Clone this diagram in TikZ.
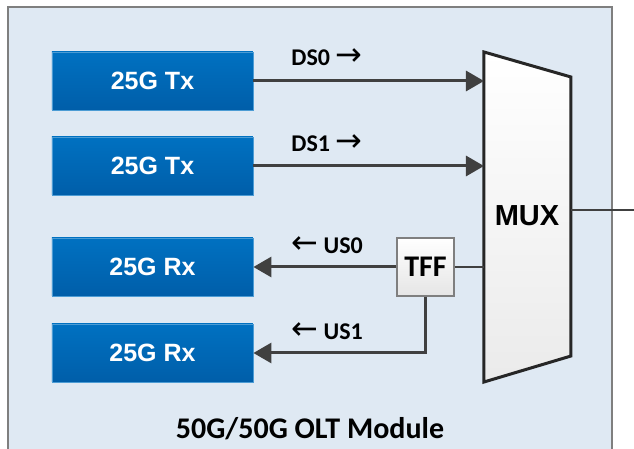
\documentclass[tikz,border=0pt]{standalone}
\usepackage{fontspec}
\setmainfont{Carlito}
\newfontfamily\arialfont{Liberation Sans}
\newfontfamily\symfont{DejaVu Sans}
\usetikzlibrary{arrows.meta,positioning,calc}

\definecolor{moduleFill}{HTML}{DFE9F3}
\definecolor{moduleLine}{HTML}{7F7F7F}
\definecolor{blockTop}{HTML}{0071C1}
\definecolor{blockBot}{HTML}{005EA9}
\definecolor{wireGray}{HTML}{404040}

\newcommand{\dirR}{{\symfont\mdseries\fontsize{16}{16}\selectfont →}}
\newcommand{\dirL}{{\symfont\mdseries\fontsize{16}{16}\selectfont ←}}

\begin{document}
\begin{tikzpicture}[
    x=0.5pt, y=-0.5pt,
    trx/.style={
        rectangle, draw=blockTop!70!white, line width=0.4pt,
        top color=blockTop, bottom color=blockBot,
        minimum width=100.5pt, minimum height=29pt, inner sep=0pt,
        text=white, font=\arialfont\bfseries\fontsize{12.5}{14}\selectfont
    },
    filterBox/.style={
        rectangle, draw=moduleLine, line width=0.6pt,
        top color=white, bottom color=black!10,
        minimum width=28.5pt, minimum height=29pt, inner sep=0pt,
        font=\bfseries\fontsize{15}{17}\selectfont
    },
    muxShape/.style={
        draw=black!85, line width=1.5pt, top color=white, bottom color=black!8
    },
    wire/.style={
        line width=1.5pt, draw=wireGray
    },
    sigArrow/.style={
        wire, -{Triangle[length=9pt, width=10pt]}
    },
    sigLabel/.style={
        anchor=base west, inner sep=0pt, font=\bfseries\fontsize{12}{14}\selectfont
    }
]

% Module frame
\clip (0,0) rectangle (634,449);
\fill[white] (0,0) rectangle (634,449);
\draw[fill=moduleFill, draw=moduleLine, line width=0.8pt] (8,7) rectangle (612,470);

% Transmitters and receivers
\node[trx] (tx0) at (152.5,81) {25G Tx};
\node[trx] (tx1) at (152.5,166) {25G Tx};
\node[trx] (rx0) at (152.5,267) {25G Rx};
\node[trx] (rx1) at (152.5,353) {25G Rx};

% MUX trapezoid
\coordinate (muxTL) at (484,52);
\coordinate (muxTR) at (571,77);
\coordinate (muxBR) at (571,356);
\coordinate (muxBL) at (484,382);
\draw[muxShape] (muxTL) -- (muxTR) -- (muxBR) -- (muxBL) -- cycle;
\node[font=\arialfont\bfseries\fontsize{14.5}{16}\selectfont] (mux) at (527,216) {MUX};
\coordinate (muxOut) at (571,210);
\coordinate (fiber) at (640,210);
\draw[wire, line width=1.1pt] (muxOut) -- (fiber);

% TFF
\node[filterBox] (tff) at (425.5,267) {TFF};

% Downstream
\draw[sigArrow] (tx0.east) -- (tx0.east -| muxTL);
\draw[sigArrow] (tx1.east) -- (tx1.east -| muxTL);
\node[sigLabel] (ds0) at (291,66) {DS0 \dirR};
\node[sigLabel] (ds1) at (291,152) {DS1 \dirR};

% Upstream
\draw[wire, line width=1.1pt] (tff.east) -- (tff.east -| muxTL);
\draw[sigArrow] (tff.west) -- (rx0.east);
\draw[sigArrow] (tff.south) |- (rx1.east);
\node[sigLabel] (us0) at (291,254) {\dirL\ US0};
\node[sigLabel] (us1) at (291,340) {\dirL\ US1};

% Title
\node[font=\bfseries\fontsize{15}{17}\selectfont, anchor=base] (title) at (310,439) {50G/50G OLT Module};

\end{tikzpicture}
\end{document}
